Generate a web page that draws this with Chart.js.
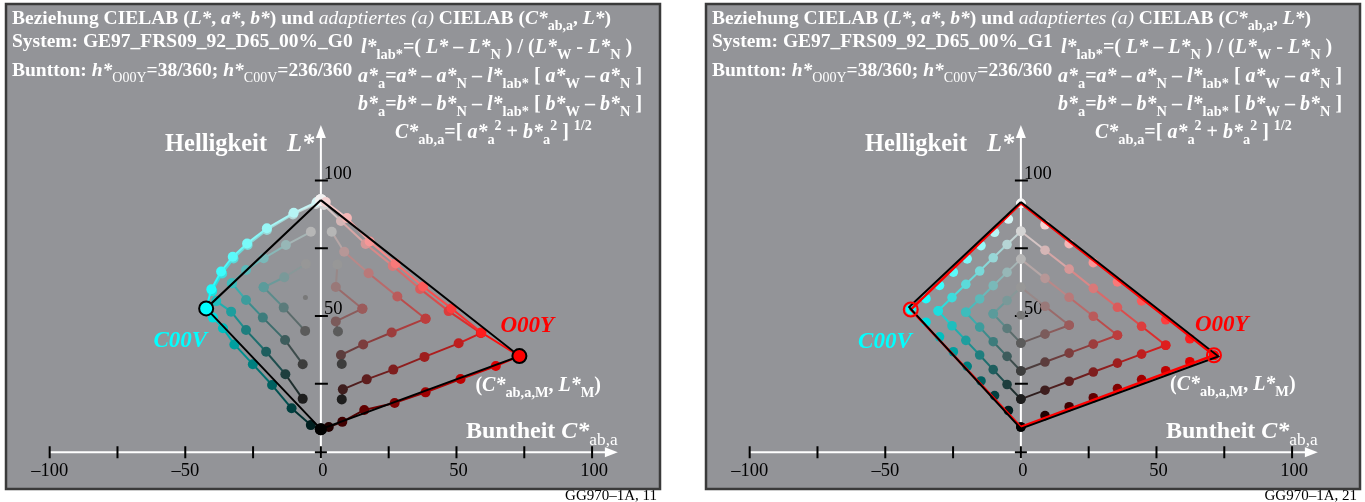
<!DOCTYPE html>
<html>
<head>
<meta charset="utf-8">
<script src="https://cdn.jsdelivr.net/npm/chart.js@4.4.1/dist/chart.umd.min.js"></script>
<style>
  html, body { margin: 0; padding: 0; background: #fff; width: 1365px; height: 502px; overflow: hidden; }
  canvas { position: absolute; top: 0; }
  #g0 { left: 0; }
  #g1 { left: 700px; }
</style>
</head>
<body>
<canvas id="g0" width="665" height="502"></canvas>
<canvas id="g1" width="665" height="502"></canvas>
<script>
// Punkte [C*ab,a, L*], Index = Buntanteil c (0..8) im 8-stufigen Dreieck W-N-M
// ...N<k>: Arm mit n = k (oben), ...W<k>: Arm mit w = k (unten)

// System G0
const g0RedN0 = [[0, 92.8], [1.8, 92.1], [9.6, 86.2], [18.0, 77.5], [27.6, 69.4], [37.7, 60.9], [48.2, 52.8], [59.2, 43.9], [73.2, 35.2]];
const g0RedW0 = [[0, 8.2], [2.9, 9.0], [7.9, 10.9], [16.0, 15.3], [27.2, 17.9], [38.6, 21.8], [51.5, 26.7], [64.5, 31.5], [73.2, 35.2]];
const g0RedN1 = [[1.1, 91.0], [7.4, 85.1], [16.5, 76.6], [26.5, 68.5], [36.6, 60.0], [47.1, 51.8], [59.0, 43.7]];
const g0RedW1 = [[7.7, 19.2], [8.1, 22.9], [16.9, 26.6], [26.7, 30.2], [38.2, 34.9], [50.8, 39.9], [59.0, 43.7]];
const g0RedN2 = [[4.0, 81.1], [8.6, 73.7], [17.6, 65.8], [28.2, 57.2], [38.6, 49.0]];
const g0RedW2 = [[7.7, 32.3], [7.4, 35.6], [15.6, 39.5], [26.1, 43.9], [38.6, 49.0]];
const g0RedN3 = [[6.1, 69.0], [5.5, 60.7], [15.3, 52.7]];
const g0RedW3 = [[6.3, 44.3], [5.5, 48.0], [15.3, 52.7]];

const g0CyanN0 = [[0, 92.8], [-1.5, 92.1], [-10.0, 88.1], [-19.9, 82.4], [-27.2, 76.8], [-32.5, 71.9], [-36.8, 66.4], [-40.4, 59.9], [-42.3, 52.8]];
const g0CyanW0 = [[0, 8.2], [-3.7, 9.7], [-10.8, 15.9], [-18.0, 24.5], [-25.1, 32.2], [-31.9, 39.5], [-36.1, 45.5], [-39.8, 49.4], [-42.3, 52.8]];
const g0CyanN1 = [[-1.8, 91.4], [-10.3, 87.5], [-19.9, 81.8], [-27.0, 76.2], [-32.2, 71.2], [-36.4, 65.7], [-40.1, 59.2]];
const g0CyanW1 = [[-6.7, 19.4], [-13.1, 28.5], [-20.2, 36.8], [-27.6, 44.8], [-33.1, 51.6], [-38.6, 55.5], [-40.1, 59.2]];
const g0CyanN2 = [[-3.7, 81.1], [-12.9, 76.2], [-21.1, 71.3], [-27.6, 67.0], [-32.8, 62.1]];
const g0CyanW2 = [[-6.7, 32.2], [-13.2, 41.1], [-21.4, 49.4], [-27.6, 55.9], [-32.8, 62.1]];
const g0CyanN3 = [[-5.5, 69.2], [-13.5, 64.3], [-21.1, 60.6]];
const g0CyanW3 = [[-5.8, 44.5], [-13.7, 53.1], [-21.1, 60.6]];
const g0Gray44 = [[-5.7, 56.8]];

const g0Black = [[0, 92.8], [73.2, 35.2], [0, 8.2], [-42.3, 52.8], [0, 92.8]];
const g0Marks = [[73.2, 35.2], [-42.3, 52.8]];

// System G1
const g1RedN0 = [[0, 91.6], [8.9, 83.7], [17.8, 76.7], [26.7, 69.7], [35.6, 62.6], [44.5, 55.6], [53.4, 48.6], [62.3, 41.6], [71.2, 35.5]];
const g1RedW0 = [[0, 9.0], [8.9, 13.2], [17.8, 16.5], [26.7, 19.8], [35.6, 23.2], [44.5, 26.5], [53.4, 29.8], [62.3, 33.1], [71.2, 35.5]];
const g1RedN1 = [[0, 81.3], [8.9, 74.3], [17.8, 67.3], [26.7, 60.2], [35.6, 53.2], [44.5, 46.2], [53.4, 39.2]];
const g1RedW1 = [[0, 19.3], [8.9, 22.6], [17.8, 25.9], [26.7, 29.3], [35.6, 32.6], [44.5, 35.9], [53.4, 39.2]];
const g1RedN2 = [[0, 71.0], [8.9, 63.9], [17.8, 56.9], [26.7, 49.9], [35.6, 42.9]];
const g1RedW2 = [[0, 29.7], [8.9, 33.0], [17.8, 36.3], [26.7, 39.6], [35.6, 42.9]];
const g1RedN3 = [[0, 60.6], [8.9, 53.6], [17.8, 46.6]];
const g1RedW3 = [[0, 40.0], [8.9, 43.3], [17.8, 46.6]];

const g1CyanN0 = [[0, 91.6], [-4.6, 85.8], [-9.7, 80.9], [-14.7, 76.0], [-19.8, 71.1], [-24.9, 66.2], [-30.0, 61.3], [-35.0, 56.4], [-40.6, 52.4]];
const g1CyanW0 = [[0, 9.0], [-4.6, 15.1], [-9.7, 20.6], [-14.7, 26.0], [-19.8, 31.4], [-24.9, 36.8], [-30.0, 42.3], [-35.0, 47.7], [-40.6, 52.4]];
const g1CyanN1 = [[0, 81.3], [-5.1, 76.4], [-10.2, 71.5], [-15.2, 66.6], [-20.3, 61.7], [-25.4, 56.8], [-30.5, 51.9]];
const g1CyanW1 = [[0, 19.3], [-5.1, 24.7], [-10.2, 30.2], [-15.2, 35.6], [-20.3, 41.0], [-25.4, 46.4], [-30.5, 51.9]];
const g1CyanN2 = [[0, 71.0], [-5.1, 66.1], [-10.2, 61.2], [-15.2, 56.3], [-20.3, 51.4]];
const g1CyanW2 = [[0, 29.7], [-5.1, 35.1], [-10.2, 40.5], [-15.2, 45.9], [-20.3, 51.4]];
const g1CyanN3 = [[0, 60.6], [-5.1, 55.7], [-10.2, 50.8]];
const g1CyanW3 = [[0, 40.0], [-5.1, 45.4], [-10.2, 50.8]];
const g1Gray44 = [[0, 50.3]];

const g1RedFrame = [[0, 91.6], [71.2, 35.5], [0, 9.0], [-40.6, 52.4], [0, 91.6]];
const g1Black = [[0, 92.1], [72.8, 35.1], [0, 8.4], [-41.2, 53.3], [0, 92.1]];
const g1Marks = [[71.2, 35.5], [-40.6, 52.4]];

// Achsen
const xTickMarks = [-100, -75, -50, -25, 0, 25, 50, 75, 100];
const xTickLabels = [-100, -50, 0, 50, 100];
const yTickMarks = [25, 50, 75, 100];
const yTickLabels = [100, 50];

const FONT = '"Liberation Serif", "Times New Roman", serif';
const WHITE = [242, 242, 242];
const RED = [255, 0, 0];
const CYAN = [0, 255, 255];

const rgb = a => 'rgb(' + a.map(Math.round).join(',') + ')';
// Farbe aus Weiss-, Schwarz- und Buntanteil (w + n + c = 8)
const mix = (w, n, c, hue) => [0, 1, 2].map(i => (w * WHITE[i] + c * hue[i]) / 8);

function chevron(up, low, k, hue) {
  const pts = [], cols = [];
  up.forEach((p, c) => { pts.push({ x: p[0], y: p[1] }); cols.push(mix(8 - k - c, k, c, hue)); });
  for (let c = low.length - 1; c >= 0; c--) {
    pts.push({ x: low[c][0], y: low[c][1] });
    cols.push(mix(k, 8 - k - c, c, hue));
  }
  return { pts, cols };
}

function chevronSet(ch, showLine, bigEnds, r) {
  const n = ch.pts.length;
  return {
    data: ch.pts,
    showLine: showLine,
    borderWidth: 2,
    borderColor: rgb(ch.cols[0]),
    segment: {
      borderColor: s => rgb(ch.cols[s.p0DataIndex].map((v, i) => (v + ch.cols[s.p1DataIndex][i]) / 2))
    },
    pointRadius: ch.pts.map((p, i) => (bigEnds && (i === 0 || i === n - 1)) ? 6 : r),
    pointBackgroundColor: ch.cols.map(rgb),
    pointBorderWidth: 0,
    clip: false,
    order: 5
  };
}

const xy = a => a.map(p => ({ x: p[0], y: p[1] }));

function rich(ctx, x, y, runs, size, color) {
  ctx.fillStyle = color;
  ctx.textAlign = 'left';
  ctx.textBaseline = 'alphabetic';
  for (const [t, s] of runs) {
    let sz = size, dy = 0;
    if (s[0] === '_') { sz = size * 0.72; dy = size * 0.3; }
    if (s[0] === '^') { sz = size * 0.7; dy = -size * 0.42; }
    const style = (s.includes('i') ? 'italic ' : '') + (s.includes('r') ? 'normal ' : 'bold ');
    ctx.font = style + sz + 'px ' + FONT;
    ctx.fillText(t, x, y + dy);
    x += ctx.measureText(t).width;
  }
  return x;
}

const title1 = [['Beziehung CIELAB (', 'b'], ['L*', 'bi'], [', ', 'b'], ['a*', 'bi'], [', ', 'b'], ['b*', 'bi'],
  [') und ', 'b'], ['adaptiertes (a)', 'ri'], [' CIELAB (', 'b'], ['C*', 'bi'], ['ab,a', '_b'], [', ', 'b'], ['L*', 'bi'], [')', 'b']];
const title3 = [['Buntton: ', 'b'], ['h*', 'bi'], ['O00Y', '_r'], ['=38/360; ', 'b'], ['h*', 'bi'], ['C00V', '_r'], ['=236/360', 'b']];
const formula1 = [['l*', 'bi'], ['lab*', '_b'], ['=( ', 'b'], ['L*', 'bi'], [' – ', 'b'], ['L*', 'bi'], ['N', '_b'],
  [' ) / (', 'b'], ['L*', 'bi'], ['W', '_b'], [' - ', 'b'], ['L*', 'bi'], ['N', '_b'], [' )', 'b']];
const formulaAB = v => [[v + '*', 'bi'], ['a', '_b'], ['=', 'b'], [v + '*', 'bi'], [' – ', 'b'], [v + '*', 'bi'], ['N', '_b'],
  [' – ', 'b'], ['l*', 'bi'], ['lab*', '_b'], [' [ ', 'b'], [v + '*', 'bi'], ['W', '_b'], [' – ', 'b'], [v + '*', 'bi'], ['N', '_b'], [' ]', 'b']];
const formula4 = [['C*', 'bi'], ['ab,a', '_b'], ['=[ ', 'b'], ['a*', 'bi'], ['a', '_b'], ['2', '^b'], [' + ', 'b'],
  ['b*', 'bi'], ['a', '_b'], ['2', '^b'], [' ] ', 'b'], ['1/2', '^b']];

function decor(p) {
  return {
    id: 'decor',
    beforeDraw(chart) {
      const ctx = chart.ctx, xs = chart.scales.x, ys = chart.scales.y;
      ctx.save();
      // Rahmen
      ctx.fillStyle = '#939498';
      ctx.fillRect(6, 4, 654, 485);
      ctx.strokeStyle = '#3a3a3a';
      ctx.lineWidth = 2.5;
      ctx.strokeRect(6, 4, 654, 485);

      const x0 = xs.getPixelForValue(0);
      const yA = ys.getPixelForValue(-0.3);
      ctx.strokeStyle = '#fff';
      ctx.fillStyle = '#fff';
      ctx.lineWidth = 2;
      ctx.beginPath();
      ctx.moveTo(xs.getPixelForValue(-100), yA);
      ctx.lineTo(xs.getPixelForValue(105), yA);
      ctx.stroke();
      const xt = xs.getPixelForValue(109.5);
      ctx.beginPath();
      ctx.moveTo(xt, yA); ctx.lineTo(xt - 13, yA - 5); ctx.lineTo(xt - 13, yA + 5);
      ctx.closePath(); ctx.fill();

      const yt = ys.getPixelForValue(120.5);
      ctx.beginPath();
      ctx.moveTo(x0, ys.getPixelForValue(-3));
      ctx.lineTo(x0, yt + 10);
      ctx.stroke();
      ctx.beginPath();
      ctx.moveTo(x0, yt); ctx.lineTo(x0 - 5, yt + 13); ctx.lineTo(x0 + 5, yt + 13);
      ctx.closePath(); ctx.fill();

      ctx.strokeStyle = '#000';
      ctx.lineWidth = 2;
      ctx.beginPath();
      xTickMarks.forEach(v => {
        const x = xs.getPixelForValue(v);
        ctx.moveTo(x, yA - 6); ctx.lineTo(x, yA + 6);
      });
      ctx.moveTo(x0 - 6, yA); ctx.lineTo(x0 + 6, yA);
      yTickMarks.forEach(v => {
        const y = ys.getPixelForValue(v);
        ctx.moveTo(x0 - 6, y); ctx.lineTo(x0 + 7, y);
      });
      ctx.stroke();

      ctx.fillStyle = '#000';
      ctx.font = '18.5px ' + FONT;
      ctx.textAlign = 'center';
      xTickLabels.forEach(v => {
        ctx.fillText(v < 0 ? '–' + (-v) : String(v), xs.getPixelForValue(v) + (v >= 0 ? 2 : 0), 476);
      });
      ctx.textAlign = 'left';
      yTickLabels.forEach(v => ctx.fillText(String(v), x0 + 3, ys.getPixelForValue(v) - 2));
      ctx.restore();
    },
    afterDraw(chart) {
      const ctx = chart.ctx, xs = chart.scales.x, ys = chart.scales.y;
      ctx.save();
      rich(ctx, 12, 24, title1, 19.5, '#fff');
      rich(ctx, 12, 47, [['System: ' + p.system, 'b']], 19.5, '#fff');
      rich(ctx, 12, 76, title3, 19.5, '#fff');

      rich(ctx, 361, 53, formula1, 20, '#fff');
      rich(ctx, 358, 82, formulaAB('a'), 20, '#fff');
      rich(ctx, 358, 110, formulaAB('b'), 20, '#fff');
      rich(ctx, 395, 138, formula4, 20, '#fff');

      rich(ctx, 165, 151, [['Helligkeit', 'b']], 24.5, '#fff');
      rich(ctx, 287, 151, [['L*', 'bi']], 24.5, '#fff');

      const mx = xs.getPixelForValue(p.marks[0][0]), my = ys.getPixelForValue(p.marks[0][1]);
      const cx = xs.getPixelForValue(p.marks[1][0]), cy = ys.getPixelForValue(p.marks[1][1]);
      ctx.font = 'italic bold 23px ' + FONT;
      ctx.fillStyle = 'rgb(0,255,255)';
      ctx.textAlign = 'right';
      ctx.fillText('C00V', cx + 1, cy + 39);
      ctx.fillStyle = 'rgb(255,0,0)';
      ctx.textAlign = 'left';
      ctx.fillText('O00Y', mx - 19, my - 24);

      rich(ctx, mx - 44, my + 35, [['(', 'b'], ['C*', 'bi'], ['ab,a,M', '_b'], [', ', 'b'], ['L*', 'bi'], ['M', '_b'], [')', 'b']], 20, '#fff');
      rich(ctx, 466, 438, [['Buntheit ', 'b'], ['C*', 'bi'], ['ab,a', '_r']], 24, '#fff');

      ctx.fillStyle = '#000';
      ctx.font = '15px ' + FONT;
      ctx.textAlign = 'right';
      ctx.fillText(p.footer, 657, 500);
      ctx.restore();
    }
  };
}

function buildPanel(id, p) {
  const datasets = [];
  [[p.red, RED], [p.cyan, CYAN]].forEach(([arms, hue]) => {
    arms.forEach(([up, low], k) => {
      const ch = chevron(up, low, k, hue);
      datasets.push(chevronSet(ch, k > 0 || p.edgeLines, k === 0 && p.edgeLines, p.radius));
    });
  });
  datasets.push({
    data: xy(p.center), showLine: false, pointRadius: p.centerRadius,
    pointBackgroundColor: rgb(mix(4, 4, 0, RED)), pointBorderWidth: 0, order: 4
  });
  p.frames.forEach((f, i) => {
    datasets.push({
      data: xy(f.pts), showLine: true, borderColor: f.color, borderWidth: f.width,
      pointRadius: 0, fill: false, clip: false, order: 3 - i
    });
  });
  datasets.push({
    data: xy(p.marks), showLine: false, pointRadius: 7,
    pointBackgroundColor: p.markFill, pointBorderColor: p.markLine, pointBorderWidth: 2,
    clip: false, order: 0
  });

  new Chart(document.getElementById(id), {
    type: 'scatter',
    data: { datasets },
    options: {
      responsive: false,
      animation: false,
      devicePixelRatio: 1,
      events: [],
      layout: { padding: { left: 7.2, right: 45.8, top: 112.9, bottom: 10 } },
      plugins: { legend: { display: false }, tooltip: { enabled: false } },
      scales: {
        x: { type: 'linear', min: -115, max: 110, display: false },
        y: { type: 'linear', min: -15, max: 125, display: false }
      }
    },
    plugins: [decor(p)]
  });
}

buildPanel('g0', {
  system: 'GE97_FRS09_92_D65_00%_G0',
  footer: 'GG970–1A, 11',
  red: [[g0RedN0, g0RedW0], [g0RedN1, g0RedW1], [g0RedN2, g0RedW2], [g0RedN3, g0RedW3]],
  cyan: [[g0CyanN0, g0CyanW0], [g0CyanN1, g0CyanW1], [g0CyanN2, g0CyanW2], [g0CyanN3, g0CyanW3]],
  center: g0Gray44, centerRadius: 2.5, radius: 5,
  edgeLines: true,
  frames: [{ pts: g0Black, color: '#000', width: 2 }],
  marks: g0Marks,
  markFill: ['rgb(255,0,0)', 'rgb(0,255,255)'],
  markLine: '#000'
});

buildPanel('g1', {
  system: 'GE97_FRS09_92_D65_00%_G1',
  footer: 'GG970–1A, 21',
  red: [[g1RedN0, g1RedW0], [g1RedN1, g1RedW1], [g1RedN2, g1RedW2], [g1RedN3, g1RedW3]],
  cyan: [[g1CyanN0, g1CyanW0], [g1CyanN1, g1CyanW1], [g1CyanN2, g1CyanW2], [g1CyanN3, g1CyanW3]],
  center: g1Gray44, centerRadius: 4.5, radius: 4.8,
  edgeLines: false,
  frames: [{ pts: g1RedFrame, color: 'rgb(255,0,0)', width: 2.5 }, { pts: g1Black, color: '#000', width: 2 }],
  marks: g1Marks,
  markFill: ['rgba(0,0,0,0)', 'rgba(0,0,0,0)'],
  markLine: 'rgb(255,0,0)'
});
</script>
</body>
</html>
